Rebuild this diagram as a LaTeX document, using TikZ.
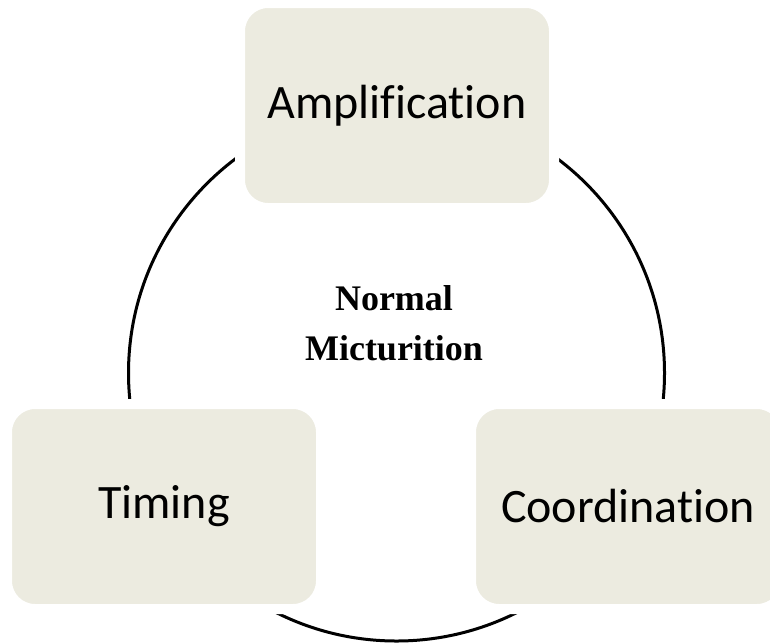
\documentclass[tikz,border=0pt]{standalone}
\usepackage{fontspec}
\setmainfont{Liberation Serif}
\newfontfamily\boxfont[Ligatures=NoCommon]{Carlito}
\definecolor{boxfill}{RGB}{236,235,224}
\begin{document}
\begin{tikzpicture}[x=1pt,y=-1pt,
  stagebox/.style={rectangle, rounded corners=28pt, minimum width=314pt,
    minimum height=205pt, fill=boxfill, draw=white, line width=10pt,
    font=\boxfont\fontsize{48}{58}\selectfont, text=black, inner sep=0pt},
  ring/.style={line width=3pt, draw=black},
  centertext/.style={font=\bfseries\fontsize{36}{50}\selectfont, align=center, inner sep=0pt}]
\useasboundingbox (0,0) rectangle (770,643);
\clip (0,0) rectangle (770,643);
\fill[white] (0,0) rectangle (770,643);
\coordinate (c) at (396.5,373);
\draw[ring] (c) circle[radius=268pt];
\node[stagebox] (amp) at (397,105.5) {Amplification};
\node[stagebox] (tim) at (164,506.5) {Timing};
\node[stagebox] (coo) at (628,506.5) {Coordination};
\node[centertext] (nm) at (394,323) {Normal\\Micturition};
\end{tikzpicture}
\end{document}
